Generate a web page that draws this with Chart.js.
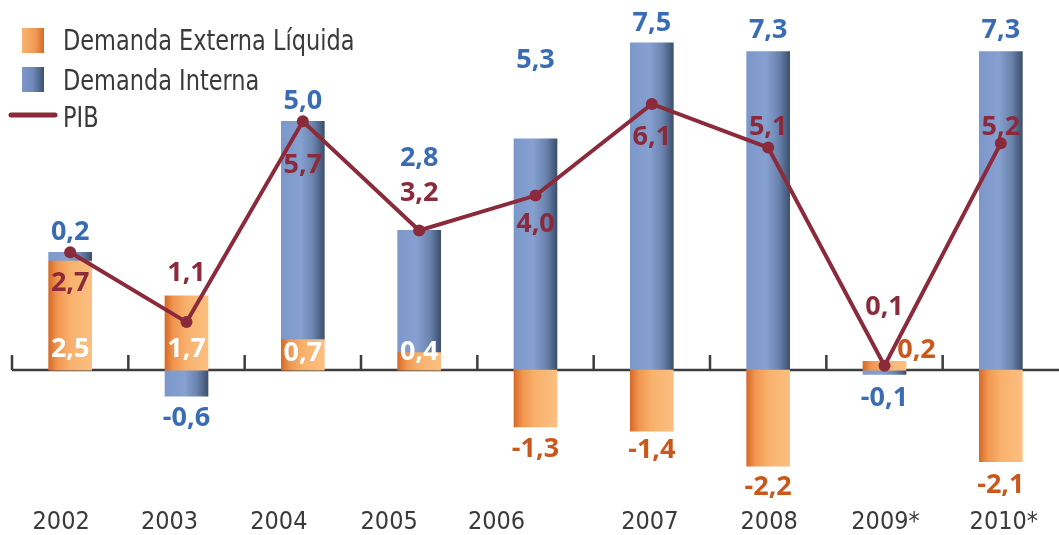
<!DOCTYPE html>
<html>
<head>
<meta charset="utf-8">
<script src="https://cdn.jsdelivr.net/npm/chart.js@4/dist/chart.umd.min.js"></script>
<style>
    html, body { margin: 0; padding: 0; background: #ffffff; overflow: hidden; }
    #wrap { width: 1059px; height: 535px; position: relative; overflow: hidden; }
    #pibChart { display: block; }
</style>
</head>
<body>
<div id="wrap"><canvas id="pibChart"></canvas></div>
<script>
const years = ["2002", "2003", "2004", "2005", "2006", "2007", "2008", "2009*", "2010*"];
const demandaExterna = [2.5, 1.7, 0.7, 0.4, -1.3, -1.4, -2.2, 0.2, -2.1];
const demandaInterna = [0.2, -0.6, 5.0, 2.8, 5.3, 7.5, 7.3, -0.1, 7.3];
const pib = [2.7, 1.1, 5.7, 3.2, 4.0, 6.1, 5.1, 0.1, 5.2];

const BAR_W = 43;
const NARROW = "'DejaVu Sans Condensed', 'Open Sans', sans-serif";
const LABEL_FONT = "bold 27px 'Open Sans', 'Liberation Sans', sans-serif";

const orangeStops = [[0, "#d66a28"], [0.2, "#f09650"], [0.5, "#f8b16c"], [1, "#fbbf80"]];
const blueStops = [[0, "#7c97ca"], [0.45, "#86a0d0"], [0.75, "#6a82ad"], [1, "#3c506e"]];

/* label placement, relative to the bar end / base or line point */
const extLabelPos = [
    { from: "base", dy: -21, color: "#ffffff" },
    { from: "base", dy: -21, color: "#ffffff" },
    { from: "base", dy: -17, color: "#ffffff" },
    { from: "base", dy: -18, color: "#ffffff" },
    { from: "end", dy: 22 },
    { from: "end", dy: 19 },
    { from: "end", dy: 21 },
    { from: "end", dx: 32, dy: -11 },
    { from: "end", dy: 24 }
];
const intLabelPos = [
    { from: "end", dy: -20 },
    { from: "end", dy: 22 },
    { from: "end", dy: -20 },
    { from: "end", dy: -72 },
    { from: "end", dy: -79 },
    { from: "end", dy: -20 },
    { from: "end", dy: -21 },
    { from: "end", dy: 24 },
    { from: "end", dy: -21 }
];
const pibLabelPos = [31, -49, 44, -37, 29, 33, -20, -58, -16];
// the year labels in the original are not centred under the bars on the left side
const yearLabelDx = [-9, -17, -24, -30, -39, -2, 1, 1, 3];

function fmt(v) {
    return v.toFixed(1).replace(".", ",");
}

function barGradient(c, stops) {
    const chart = c.chart;
    const x = chart.scales.x;
    if (!x || c.dataIndex === undefined) return stops[2][1];
    const cx = x.getPixelForValue(c.dataIndex);
    if (!isFinite(cx)) return stops[2][1];
    const g = chart.ctx.createLinearGradient(cx - BAR_W / 2, 0, cx + BAR_W / 2, 0);
    stops.forEach(s => g.addColorStop(s[0], s[1]));
    return g;
}

/* zero line with small ticks between the years, plus the year labels */
const zeroLine = {
    id: "zeroLine",
    beforeDatasetsDraw(chart) {
        const ctx = chart.ctx;
        const x = chart.scales.x, y = chart.scales.y;
        const y0 = y.getPixelForValue(0);
        ctx.save();
        ctx.strokeStyle = "#3d3d3d";
        ctx.lineWidth = 2.5;
        ctx.beginPath();
        ctx.moveTo(chart.chartArea.left, y0);
        ctx.lineTo(chart.width, y0);
        const half = (x.getPixelForValue(1) - x.getPixelForValue(0)) / 2;
        for (let i = 0; i < years.length; i++) {
            const tx = x.getPixelForValue(i) - half;
            ctx.moveTo(tx, y0);
            ctx.lineTo(tx, y0 - 15);
        }
        ctx.stroke();

        ctx.font = "25px " + NARROW;
        ctx.fillStyle = "#3a3a3a";
        ctx.textAlign = "center";
        ctx.textBaseline = "middle";
        years.forEach((yr, i) => {
            ctx.fillText(yr, x.getPixelForValue(i) + yearLabelDx[i], chart.chartArea.bottom + 21);
        });
        ctx.restore();
    }
};

/* value labels */
const valueLabels = {
    id: "valueLabels",
    afterDatasetsDraw(chart) {
        const ctx = chart.ctx;
        ctx.save();
        ctx.font = LABEL_FONT;
        ctx.textAlign = "center";
        ctx.textBaseline = "middle";

        const bars = [
            { idx: 0, values: demandaExterna, pos: extLabelPos, color: "#c8581c" },
            { idx: 1, values: demandaInterna, pos: intLabelPos, color: "#3a6cb4" }
        ];
        bars.forEach(b => {
            const meta = chart.getDatasetMeta(b.idx);
            meta.data.forEach((el, i) => {
                const p = b.pos[i];
                const yy = (p.from === "base" ? el.base : el.y) + (p.dy || 0);
                ctx.fillStyle = p.color || b.color;
                ctx.fillText(fmt(b.values[i]), el.x + (p.dx || 0), yy);
            });
        });

        const line = chart.getDatasetMeta(2);
        ctx.fillStyle = "#8a2a3a";
        line.data.forEach((pt, i) => {
            ctx.fillText(fmt(pib[i]), pt.x, pt.y + pibLabelPos[i]);
        });
        ctx.restore();
    }
};

/* legend in the top left corner */
const cornerLegend = {
    id: "cornerLegend",
    afterDraw(chart) {
        const ctx = chart.ctx;
        const ds = chart.data.datasets;
        ctx.save();

        let g = ctx.createLinearGradient(22, 0, 44, 0);
        g.addColorStop(0, "#f9b36f");
        g.addColorStop(0.6, "#f19a55");
        g.addColorStop(1, "#d66a28");
        ctx.fillStyle = g;
        ctx.fillRect(22, 28, 22, 25);

        g = ctx.createLinearGradient(22, 0, 44, 0);
        g.addColorStop(0, "#7c97ca");
        g.addColorStop(0.5, "#7089bb");
        g.addColorStop(1, "#3c506e");
        ctx.fillStyle = g;
        ctx.fillRect(22, 67, 22, 25);

        ctx.strokeStyle = "#8a2a3a";
        ctx.lineWidth = 5;
        ctx.lineCap = "round";
        ctx.beginPath();
        ctx.moveTo(11, 115);
        ctx.lineTo(55, 115);
        ctx.stroke();

        // the legend text is a little condensed in the original
        ctx.font = "29px " + NARROW;
        ctx.fillStyle = "#3a3a3a";
        ctx.textBaseline = "alphabetic";
        ctx.textAlign = "left";
        ctx.translate(63, 0);
        ctx.scale(0.86, 1);
        ctx.fillText(ds[0].label, 0, 50);
        ctx.fillText(ds[1].label, 0, 90);
        ctx.fillText(ds[2].label, 0, 127);
        ctx.restore();
    }
};

new Chart(document.getElementById("pibChart"), {
    data: {
        labels: years,
        datasets: [
            {
                type: "bar",
                label: "Demanda Externa Líquida",
                data: demandaExterna,
                backgroundColor: c => barGradient(c, orangeStops),
                borderWidth: 0,
                barThickness: BAR_W,
                order: 2
            },
            {
                type: "bar",
                label: "Demanda Interna",
                data: demandaInterna,
                backgroundColor: c => barGradient(c, blueStops),
                borderWidth: 0,
                barThickness: BAR_W,
                order: 2
            },
            {
                type: "line",
                label: "PIB",
                data: pib,
                stack: "pib",
                borderColor: "#8a2a3a",
                backgroundColor: "#8a2a3a",
                borderWidth: 4,
                pointRadius: 6,
                pointBackgroundColor: "#8a2a3a",
                pointBorderWidth: 0,
                tension: 0,
                order: 0
            }
        ]
    },
    options: {
        responsive: true,
        maintainAspectRatio: false,
        animation: false,
        events: [],
        layout: {
            autoPadding: false,
            padding: { top: 21, left: 12, right: -3, bottom: 34 }
        },
        plugins: {
            legend: { display: false },
            tooltip: { enabled: false }
        },
        scales: {
            x: {
                stacked: true,
                grid: { display: false, drawTicks: false },
                border: { display: false },
                ticks: { display: false }
            },
            y: {
                stacked: true,
                display: false,
                min: -3,
                max: 8
            }
        }
    },
    plugins: [zeroLine, valueLabels, cornerLegend]
});
</script>
</body>
</html>
